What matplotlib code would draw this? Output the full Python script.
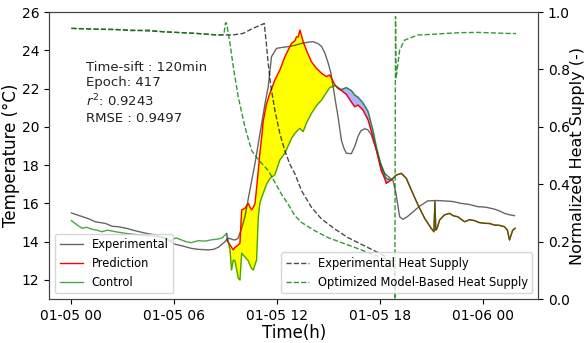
import numpy as np
import pandas as pd
import matplotlib
matplotlib.use("Agg")
import matplotlib.pyplot as plt
import matplotlib.dates as mdates

# hours after 01-05 00:00
exp_h = [0, 0.5, 1.0, 1.4, 2.0, 2.4, 2.75, 3.2, 3.73, 4.3, 4.9, 5.47, 6.0, 6.6, 7.0, 7.4, 8.0, 8.3,
         8.58, 8.9, 9.16, 9.3, 9.45, 9.6, 9.74, 9.94, 10.13, 10.42, 10.72, 11.0, 11.3, 11.49, 11.68,
         11.97, 12.3, 12.65, 13.0, 13.43, 13.8, 14.1, 14.4, 14.6, 14.8, 15.0, 15.15, 15.28, 15.42,
         15.57, 15.76, 15.9, 16.05, 16.34, 16.55, 16.73, 16.9, 17.12, 17.3, 17.5, 17.65, 17.8, 18.0,
         18.29, 18.5, 18.77, 18.95, 19.16, 19.35, 19.6, 19.84, 20.33, 20.8, 21.3, 21.78, 22.25, 22.75,
         23.2, 23.72, 24.2, 24.7, 25.0, 25.28, 25.6, 25.86]
exp_T = [15.5, 15.35, 15.2, 15.04, 14.95, 14.8, 14.78, 14.7, 14.57, 14.45, 14.35, 14.18, 13.88, 13.75,
         13.65, 13.6, 13.57, 13.6, 13.71, 13.95, 14.18, 14.15, 14.1, 14.1, 14.19, 14.7, 15.3, 16.7,
         18.1, 19.6, 21.2, 22.1, 23.66, 24.1, 24.15, 24.19, 24.25, 24.36, 24.42, 24.45, 24.35, 24.2,
         23.85, 23.3, 22.8, 22.1, 21.3, 20.5, 19.3, 18.9, 18.62, 18.6, 19.0, 19.5, 19.8, 19.9, 19.85,
         19.6, 19.2, 18.8, 18.2, 17.57, 17.4, 17.2, 16.5, 15.3, 15.17, 15.3, 15.48, 15.86, 16.13,
         16.15, 16.13, 16.1, 16.0, 15.95, 15.83, 15.8, 15.7, 15.6, 15.48, 15.4, 15.36]

# control temperature
ctrl_h = [0, 0.3, 0.62, 0.9, 1.2, 1.5, 1.78, 2.1, 2.36, 2.7, 3.14, 3.5, 3.92, 4.3, 4.7, 5.1, 5.47,
          5.8, 6.1, 6.4, 6.7, 7.0, 7.4, 7.8, 8.2, 8.58, 8.8, 8.97,
          9.06, 9.26, 9.35, 9.45, 9.55, 9.74, 9.84, 9.94, 10.13, 10.33, 10.42, 10.52, 10.62, 10.72,
          10.81, 10.91, 11.0, 11.1, 11.2, 11.39, 11.59, 11.88, 12.17, 12.46, 12.85, 13.05, 13.14,
          13.24, 13.34, 13.53, 13.72, 14.01, 14.3, 14.6, 14.89, 15.08, 15.38, 15.57, 15.76, 16.05,
          16.34, 16.54, 16.73, 17.02, 17.32, 17.6, 17.8, 18.09, 18.29, 18.38, 18.67,
          18.96, 19.26, 19.55, 19.84, 20.23, 20.62, 21.0, 21.16, 21.22, 21.27, 21.35, 21.49, 21.78,
          22.07, 22.3, 22.56, 22.95, 23.24, 23.53, 23.8, 24.11, 24.4, 24.69, 25.0, 25.28, 25.45,
          25.57, 25.76, 25.9]
ctrl_T = [15.1, 14.9, 14.7, 14.75, 14.65, 14.6, 14.52, 14.6, 14.56, 14.5, 14.44, 14.4, 14.35, 14.32,
          14.3, 14.25, 14.18, 14.05, 14.2, 14.1, 14.0, 13.95, 14.05, 14.03, 14.1, 14.14, 14.2, 14.35,
          14.44, 13.56, 12.52, 13.04, 13.0, 12.09, 12.0, 13.4, 13.2, 13.0, 12.78, 12.6, 12.52, 12.8,
          13.04, 15.3, 16.0, 16.3, 16.53, 17.0, 17.3, 17.5, 18.27, 18.62, 19.4, 19.66, 19.75,
          19.85, 19.92, 19.75, 20.2, 20.7, 21.1, 21.4, 21.8, 22.05, 22.15, 22.05, 21.95, 22.05,
          21.9, 21.66, 21.55, 21.25, 20.8, 19.83, 18.96, 17.92, 17.48, 17.3, 17.22,
          17.48, 17.57, 17.31, 16.7, 15.92, 15.22, 14.7, 14.52, 16.1, 14.6, 14.7, 15.13, 15.4,
          15.48, 15.35, 15.3, 15.04, 15.15, 15.1, 15.0, 14.96, 14.95, 14.87, 14.85, 14.78, 14.6,
          14.09, 14.6, 14.7]

# prediction, shown from 9h on (same time stamps as control)
pred_T = [14.1, 13.83, 13.7, 13.57, 13.7, 13.83, 13.92, 15.66, 15.74, 16.0, 15.8, 15.66, 15.8, 16.0,
          16.8, 17.7, 18.6, 19.4, 20.3, 21.2, 21.75, 22.45, 22.97, 23.66, 24.36, 24.5, 24.7,
          24.7, 25.06, 24.45, 24.0, 23.4, 23.06, 22.8, 22.62, 22.71, 22.2, 22.0, 21.9, 21.7,
          21.3, 21.05, 21.14, 20.88, 20.36, 19.48, 18.79, 17.7, 17.3, 17.05, 17.22]

# heat supply (normalized)
hs_exp_h = [0, 1.6, 3.5, 5.5, 7.4, 8.5, 9.4, 10.0, 10.6, 11.26, 11.38, 11.49, 11.65, 11.88, 12.17,
            12.46, 12.75, 13.05, 13.43, 14.01, 14.6, 15.38, 16.15, 16.92, 17.7, 18.29]
hs_exp = [0.943, 0.94, 0.937, 0.931, 0.925, 0.92, 0.92, 0.925, 0.943, 0.96, 0.89, 0.82, 0.739,
          0.657, 0.576, 0.517, 0.47, 0.436, 0.378, 0.32, 0.279, 0.244, 0.214, 0.191, 0.168, 0.15]
hs_opt_h = [0, 1.6, 2.5, 3.5, 4.5, 5.5, 6.5, 7.4, 8.5, 8.9, 9.0, 9.06, 9.26, 9.45, 9.74, 10.13,
            10.52, 11.0, 11.49, 12.26, 12.66, 13.05, 13.43, 14.21, 14.99, 15.76, 16.54, 17.32,
            18.09, 18.85, 18.88, 18.92, 18.95, 19.16, 19.45, 20.23, 21.0, 21.78, 22.7, 23.72,
            24.7, 25.66, 25.95]
hs_opt = [0.943, 0.94, 0.94, 0.935, 0.937, 0.93, 0.928, 0.925, 0.92, 0.922, 0.963, 0.96, 0.89,
          0.81, 0.704, 0.6, 0.517, 0.48, 0.448, 0.366, 0.33, 0.29, 0.267, 0.238, 0.214, 0.197,
          0.18, 0.162, 0.145, 0.13, 0.0, 0.984, 0.768, 0.867, 0.902, 0.92, 0.922, 0.925, 0.928,
          0.929, 0.927, 0.925, 0.925]

start = pd.Timestamp("2022-01-05")


def to_time(h):
    return start + pd.to_timedelta(np.array(h), unit="h")


t_exp = to_time(exp_h)
t_ctrl = to_time(ctrl_h)
ctrl_T = np.array(ctrl_T)
i0 = ctrl_h.index(9.06)
i1 = i0 + len(pred_T)
t_win = t_ctrl[i0:i1]
c_win = ctrl_T[i0:i1]
p_win = np.array(pred_T)
# after the window the prediction sits on the control curve
t_pred = t_ctrl[i0:]
p_full = np.concatenate([p_win, ctrl_T[i1:]])

fig, ax = plt.subplots(figsize=(5.85, 3.43), dpi=100)
fig.subplots_adjust(left=0.084, right=0.92, top=0.965, bottom=0.128)

ax.fill_between(t_win, p_win, c_win, where=p_win >= c_win, interpolate=True, color="yellow")
ax.fill_between(t_win, p_win, c_win, where=p_win < c_win, interpolate=True, color="blue", alpha=0.3)
ax.plot(t_exp, exp_T, color="k", alpha=0.6, lw=1, label="Experimental")
ax.plot(t_pred, p_full, color="red", lw=1, label="Prediction")
ax.plot(t_ctrl, ctrl_T, color="green", lw=1, alpha=0.7, label="Control")
ax.set_ylim(11, 26)
ax.set_yticks(range(12, 27, 2))
ax.set_ylabel("Temperature (\u00b0C)", fontsize=12, labelpad=1)
ax.set_xlabel("Time(h)", fontsize=12, labelpad=1)
ax.xaxis.set_major_locator(mdates.HourLocator(byhour=[0, 6, 12, 18]))
ax.xaxis.set_major_formatter(mdates.DateFormatter("%m-%d %H"))
ax.tick_params(labelsize=10)
ax.legend(loc="lower left", fontsize=8.3)

ax.text(0.075, 0.83, "Time-sift : 120min\nEpoch: 417\n$r^2$: 0.9243\nRMSE : 0.9497",
        transform=ax.transAxes, fontsize=9.5, va="top", linespacing=1.25, color="#222222")

ax2 = ax.twinx()
ax2.plot(to_time(hs_exp_h), hs_exp, "--", color="k", alpha=0.7, lw=1, label="Experimental Heat Supply")
ax2.plot(to_time(hs_opt_h), hs_opt, "--", color="green", alpha=0.8, lw=1,
         label="Optimized Model-Based Heat Supply")
ax2.set_ylim(0, 1.0)
ax2.set_ylabel("Normalized Heat Supply (-)", fontsize=11.5, labelpad=0)
ax2.tick_params(labelsize=10)
ax2.legend(loc="lower right", fontsize=8.3)

for a in (ax, ax2):
    for s in a.spines.values():
        s.set_color("#444444")

fig.savefig("out.png")
